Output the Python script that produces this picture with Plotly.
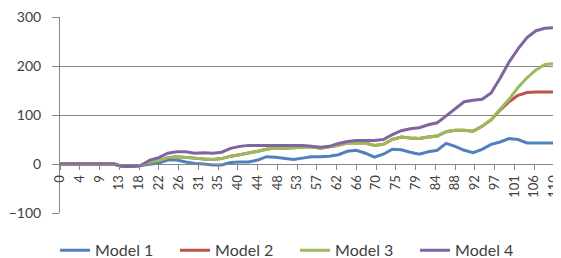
import plotly.graph_objects as go

x_values = [0, 2, 4, 6, 8, 10, 12, 14, 16, 18, 20, 22, 24, 26, 28, 30, 32, 34, 36, 38,
            40, 42, 44, 46, 48, 50, 52, 54, 56, 58, 60, 62, 64, 66, 68, 70, 72, 74, 76, 78,
            80, 82, 84, 86, 88, 90, 92, 94, 96, 98, 100, 102, 104, 106, 108, 110]

model1 = [0, 0, 0, 0, 0, 0, 0, -5, -5, -3, 0, 2, 8, 8, 4, 1, 0, -2, -2, 3,
          4, 4, 8, 15, 14, 12, 9, 12, 15, 15, 16, 19, 26, 28, 22, 14, 20, 30, 29, 24,
          20, 25, 28, 42, 36, 28, 23, 30, 40, 45, 52, 50, 43, 43, 43, 43]

model3 = [0, 0, 0, 0, 0, 0, 0, -5, -5, -3, 4, 7, 13, 15, 14, 12, 10, 9, 11, 16,
          19, 22, 26, 30, 33, 32, 33, 35, 35, 32, 35, 38, 43, 43, 43, 38, 40, 50, 55, 53,
          52, 55, 57, 66, 69, 69, 67, 77, 90, 112, 132, 156, 176, 192, 203, 205]

model2 = [0, 0, 0, 0, 0, 0, 0, -5, -5, -3, 4, 7, 13, 15, 14, 12, 10, 9, 11, 16,
          19, 22, 26, 30, 33, 32, 33, 35, 35, 32, 35, 38, 43, 43, 43, 38, 40, 50, 55, 53,
          52, 55, 57, 66, 69, 69, 67, 77, 90, 110, 127, 140, 146, 147, 147, 147]

model4 = [0, 0, 0, 0, 0, 0, 0, -5, -5, -3, 8, 13, 22, 25, 25, 22, 23, 22, 24, 32,
          36, 38, 38, 38, 38, 38, 38, 38, 36, 34, 36, 42, 46, 48, 48, 48, 50, 60, 68, 72,
          74, 80, 84, 98, 112, 127, 130, 132, 145, 175, 208, 235, 258, 272, 277, 278]

tick_labels = ["0", "4", "9", "13", "18", "22", "26", "31", "35", "40", "44", "48", "53",
               "57", "62", "66", "70", "75", "79", "84", "88", "92", "97", "101", "106", "110"]
tick_step = 4.4
tick_positions = [round(i * tick_step, 4) for i in range(len(tick_labels))]

series = [
    ("Model 1", model1, "#4F81BD"),
    ("Model 2", model2, "#C0504D"),
    ("Model 3", model3, "#9BBB59"),
    ("Model 4", model4, "#8064A2"),
]

fig = go.Figure()
for name, vals, color in series:
    fig.add_trace(go.Scatter(x=x_values, y=vals, mode="lines", name=name,
                             line=dict(color=color, width=3)))

font_family = "Lato, 'Open Sans', sans-serif"
fig.update_layout(
    width=553, height=250,
    margin=dict(l=52, r=7, t=9, b=45, autoexpand=False),
    paper_bgcolor="white", plot_bgcolor="white",
    font=dict(family=font_family, size=14, color="#404040"),
    showlegend=True,
    legend=dict(orientation="h", x=-0.01, xanchor="left", y=-0.19, yanchor="middle",
                font=dict(size=16, color="#404040"), entrywidth=75,
                entrywidthmode="pixels", bgcolor="rgba(0,0,0,0)"),
    xaxis=dict(range=[0, 110.01], anchor="free", position=0.25, showgrid=False,
               zeroline=False, showline=True, linecolor="#868686", linewidth=1,
               tickmode="array", tickvals=tick_positions, ticktext=tick_labels,
               tickangle=-90, ticks="outside", ticklen=5, tickcolor="#868686",
               ticklabeloverflow="allow",
               tickfont=dict(size=13, color="#404040")),
    yaxis=dict(range=[-100, 300], tickvals=[-100, 0, 100, 200, 300], showgrid=True,
               gridcolor="#868686", gridwidth=1, zeroline=False, showline=True,
               linecolor="#868686", linewidth=1, ticks="outside", ticklen=7,
               tickcolor="#868686", ticklabelstandoff=8, ticklabeloverflow="allow",
               tickfont=dict(size=14, color="#404040")),
)

fig.write_html("out.html")
